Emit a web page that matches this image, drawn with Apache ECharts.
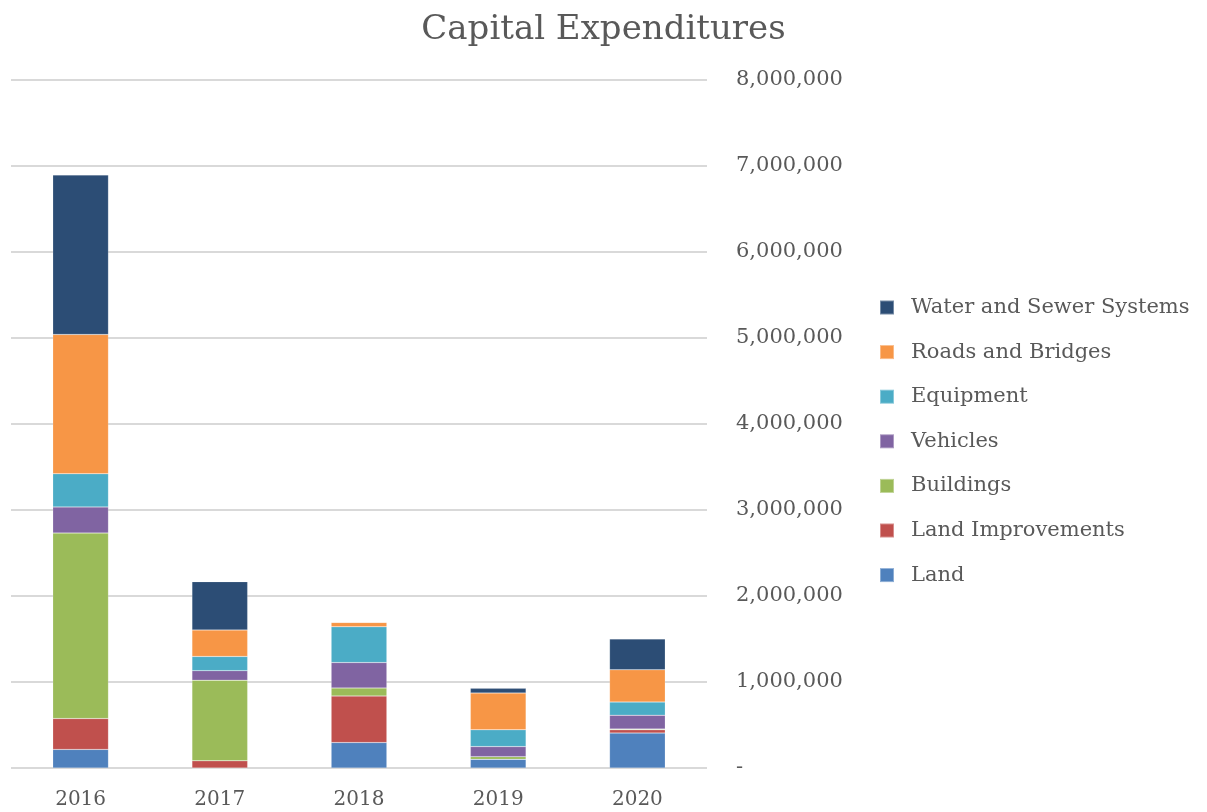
<!DOCTYPE html>
<html>
<head>
<meta charset="utf-8">
<title>Capital Expenditures</title>
<script src="https://cdn.jsdelivr.net/npm/echarts@6/dist/echarts.min.js"></script>
<style>
  html, body { margin: 0; padding: 0; background: #ffffff; }
  #chart { width: 1207px; height: 812px; }
</style>
</head>
<body>
<div id="chart"></div>
<script>
// Fiscal years on the category axis
const years = ['2016', '2017', '2018', '2019', '2020'];

// Capital spending by asset class (USD), stacked bottom to top
const land              = [216000,       0, 296000, 101000, 406000];
const landImprovements  = [359000,   83000, 541000,      0,  38000];
const buildings         = [2157000, 938000,  93000,  31000,  10000];
const vehicles          = [304000,  111000, 296000, 117000, 160000];
const equipment         = [386000,  165000, 416000, 195000, 153000];
const roadsAndBridges   = [1619000, 308000,  51000, 428000, 375000];
const waterAndSewer     = [1854000, 562000,      0,  54000, 359000];

// Value-axis ticks
const yTicks = [0, 1000000, 2000000, 3000000, 4000000, 5000000, 6000000, 7000000, 8000000];

const seriesDefs = [
  { name: 'Land',                    data: land,             color: '#4F81BD' },
  { name: 'Land Improvements',       data: landImprovements, color: '#C0504D' },
  { name: 'Buildings',               data: buildings,        color: '#9BBB59' },
  { name: 'Vehicles',                data: vehicles,         color: '#8064A2' },
  { name: 'Equipment',               data: equipment,        color: '#4BACC6' },
  { name: 'Roads and Bridges',       data: roadsAndBridges,  color: '#F79646' },
  { name: 'Water and Sewer Systems', data: waterAndSewer,    color: '#2C4D75' }
];

const FONT = '"DejaVu Serif", "Liberation Serif", serif';
const TEXT = '#595959';

const chart = echarts.init(document.getElementById('chart'), null, { renderer: 'canvas' });

chart.setOption({
  backgroundColor: '#ffffff',
  animation: false,
  textStyle: { fontFamily: FONT, color: TEXT },
  title: {
    text: 'Capital Expenditures',
    left: 'center',
    top: 8,
    textStyle: { fontFamily: FONT, fontSize: 34, fontWeight: 'normal', color: TEXT }
  },
  legend: {
    orient: 'vertical',
    left: 874,
    top: 292,
    itemWidth: 14,
    itemHeight: 14,
    itemGap: 23.6,
    icon: 'rect',
    data: seriesDefs.map(s => s.name).reverse(),
    textStyle: { fontFamily: FONT, fontSize: 21, color: TEXT, padding: [0, 0, 0, 12] }
  },
  grid: { left: 11, right: 500, top: 80, bottom: 44, containLabel: false },
  xAxis: {
    type: 'category',
    data: years,
    axisLine: { show: false },
    axisTick: { show: false },
    axisLabel: { fontFamily: FONT, fontSize: 20, color: TEXT, margin: 22 }
  },
  yAxis: {
    type: 'value',
    position: 'right',
    min: yTicks[0],
    max: yTicks[yTicks.length - 1],
    interval: yTicks[1] - yTicks[0],
    axisLine: { show: false },
    axisTick: { show: false },
    splitLine: { lineStyle: { color: '#d9d9d9', width: 2 } },
    axisLabel: {
      fontFamily: FONT,
      fontSize: 21,
      color: TEXT,
      margin: 29,
      formatter: v => v === 0 ? '-' : v.toLocaleString('en-US')
    }
  },
  series: seriesDefs.map(s => ({
    name: s.name,
    type: 'bar',
    stack: 'total',
    data: s.data,
    barWidth: '40%',
    itemStyle: { color: s.color, borderColor: 'rgba(255,255,255,0.35)', borderWidth: 0.5 }
  }))
});
</script>
</body>
</html>
